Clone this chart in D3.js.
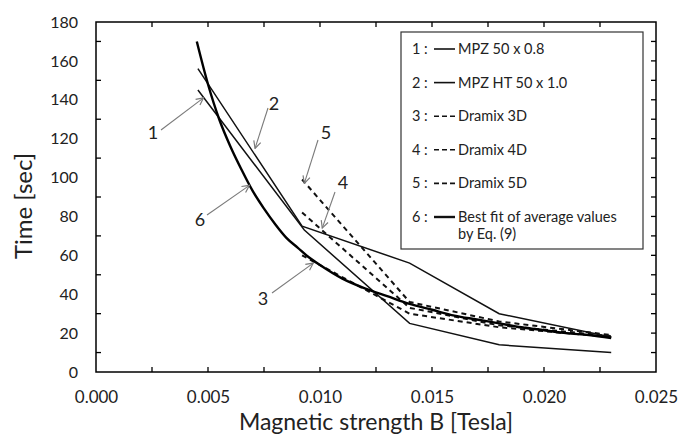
<!DOCTYPE html>
<html>
<head>
    <meta charset="utf-8" />
    <style>
    body { margin: 0; background: #fff; }
    text { font-family: Lato, "Open Sans", sans-serif; fill: #222; }
    .frame { fill: none; stroke: #000; stroke-width: 1.5px; }
    .curve { fill: none; stroke: #111; stroke-width: 1.5px; }
    .fit { fill: none; stroke: #000; stroke-width: 2.4px; }
    .dash { fill: none; stroke: #111; stroke-width: 2px; stroke-dasharray: 5 4; }
    .pointer { stroke: #7a7a7a; stroke-width: 1.1px; }
    </style>
</head>
<body>
<svg id="chart" width="680" height="436"></svg>
<script src="https://d3js.org/d3.v7.min.js"></script>
<script>
    // values: [B (Tesla), time (sec)]
    var mpz50 = [[0.00455, 145], [0.0093, 73], [0.014, 25], [0.018, 14], [0.023, 10]];
    var mpzHT = [[0.00455, 156], [0.0092, 75], [0.014, 56], [0.018, 30], [0.023, 18]];
    var dramix3D = [[0.0092, 60], [0.014, 30], [0.018, 23], [0.023, 18]];
    var dramix4D = [[0.0092, 82], [0.014, 33], [0.018, 24], [0.023, 18.5]];
    var dramix5D = [[0.0092, 99], [0.014, 36], [0.018, 26], [0.023, 19]];
    var bestFit = [[0.0045, 170], [0.005, 148], [0.0055, 130], [0.006, 116], [0.0065, 104],
        [0.007, 93], [0.0075, 84], [0.008, 76], [0.0085, 69], [0.009, 64], [0.0095, 59],
        [0.010, 55], [0.011, 48], [0.012, 43], [0.013, 39], [0.014, 35], [0.015, 32],
        [0.016, 29], [0.017, 27], [0.018, 25], [0.019, 23], [0.020, 21.5], [0.021, 20],
        [0.022, 19], [0.023, 17.5]];

    var xTicks = [0, 0.005, 0.010, 0.015, 0.020, 0.025];
    var yTicks = [0, 20, 40, 60, 80, 100, 120, 140, 160, 180];
    var legendLabels = ["MPZ 50 x 0.8", "MPZ HT 50 x 1.0", "Dramix 3D", "Dramix 4D", "Dramix 5D", "Best fit of average values"];

    var svg = d3.select("#chart");
    var pl = 96, pt = 22, pr = 656, pb = 372;

    var x = d3.scaleLinear().domain([0, 0.025]).range([pl, pr]);
    var y = d3.scaleLinear().domain([0, 180]).range([pb, pt]);

    // tick labels
    svg.append("g")
        .attr("transform", "translate(0," + pb + ")")
        .call(d3.axisBottom(x).tickValues(xTicks).tickFormat(d3.format(".3f")).tickSize(0).tickPadding(19))
        .call(function(g) { g.select(".domain").remove(); })
        .selectAll("text").style("font-size", "17px").attr("fill", "#222");

    svg.append("g")
        .attr("transform", "translate(" + pl + ",0)")
        .call(d3.axisLeft(y).tickValues(yTicks).tickSize(0).tickPadding(18))
        .call(function(g) { g.select(".domain").remove(); })
        .selectAll("text").style("font-size", "16px").attr("fill", "#222");

    // inside ticks
    var minorX = d3.range(1, 10).map(function(i) { return i * 0.0025; });
    var oddY = d3.range(10, 180, 20);
    var allY = d3.range(10, 180, 10);
    var tickG = svg.append("g").attr("stroke", "#000").attr("stroke-width", 1.3);
    tickG.selectAll(".tb").data(minorX).enter().append("line")
        .attr("x1", function(d) { return x(d); }).attr("x2", function(d) { return x(d); })
        .attr("y1", pb).attr("y2", pb - 5);
    tickG.selectAll(".tt").data(minorX).enter().append("line")
        .attr("x1", function(d) { return x(d); }).attr("x2", function(d) { return x(d); })
        .attr("y1", pt).attr("y2", pt + 5);
    tickG.selectAll(".tl").data(oddY).enter().append("line")
        .attr("x1", pl).attr("x2", pl + 5)
        .attr("y1", function(d) { return y(d); }).attr("y2", function(d) { return y(d); });
    tickG.selectAll(".tr").data(allY).enter().append("line")
        .attr("x1", pr).attr("x2", pr - 5)
        .attr("y1", function(d) { return y(d); }).attr("y2", function(d) { return y(d); });

    svg.append("rect").attr("class", "frame")
        .attr("x", pl).attr("y", pt).attr("width", pr - pl).attr("height", pb - pt);

    // axis titles
    svg.append("text").attr("x", 376).attr("y", 430)
        .attr("text-anchor", "middle").style("font-size", "23px").text("Magnetic strength B [Tesla]");
    svg.append("text").attr("transform", "translate(32,206) rotate(-90)")
        .attr("text-anchor", "middle").style("font-size", "24px").text("Time [sec]");

    // curves
    var line = d3.line().x(function(d) { return x(d[0]); }).y(function(d) { return y(d[1]); });
    var smooth = d3.line().curve(d3.curveMonotoneX).x(function(d) { return x(d[0]); }).y(function(d) { return y(d[1]); });

    svg.append("path").attr("class", "curve").attr("d", line(mpz50));
    svg.append("path").attr("class", "curve").attr("d", line(mpzHT));
    svg.append("path").attr("class", "dash").attr("d", line(dramix3D));
    svg.append("path").attr("class", "dash").attr("d", line(dramix4D));
    svg.append("path").attr("class", "dash").attr("d", line(dramix5D));
    svg.append("path").attr("class", "fit").attr("d", smooth(bestFit));

    // numbered pointers
    svg.append("defs").append("marker")
        .attr("id", "head").attr("viewBox", "0 0 10 10").attr("refX", 9).attr("refY", 5)
        .attr("markerWidth", 9).attr("markerHeight", 9).attr("orient", "auto")
        .attr("markerUnits", "userSpaceOnUse")
        .append("path").attr("d", "M1,1 L9,5 L1,9").attr("fill", "none")
        .attr("stroke", "#7a7a7a").attr("stroke-width", 1.3);

    var pointers = [
        {label: "1", tx: 153, ty: 139, x1: 161, y1: 130, at: [0.0048, 141]},
        {label: "2", tx: 274, ty: 110, x1: 268, y1: 108, at: [0.0071, 115]},
        {label: "5", tx: 326, ty: 139, x1: 318, y1: 140, at: [0.0093, 97]},
        {label: "4", tx: 343, ty: 189, x1: 335, y1: 192, at: [0.0101, 74]},
        {label: "6", tx: 200, ty: 226, x1: 207, y1: 215, at: [0.00685, 96]},
        {label: "3", tx: 263, ty: 305, x1: 272, y1: 293, at: [0.0097, 56]}
    ];
    var pg = svg.append("g");
    pointers.forEach(function(p) {
        pg.append("line").attr("class", "pointer")
            .attr("x1", p.x1).attr("y1", p.y1)
            .attr("x2", x(p.at[0])).attr("y2", y(p.at[1]))
            .attr("marker-end", "url(#head)");
        pg.append("text").attr("x", p.tx).attr("y", p.ty).attr("text-anchor", "middle")
            .style("font-size", "18px").text(p.label);
    });

    // legend
    var lg = svg.append("g");
    lg.append("rect").attr("x", 401).attr("y", 32).attr("width", 242).attr("height", 217)
        .attr("fill", "#fff").attr("stroke", "#333").attr("stroke-width", 1.2);
    legendLabels.forEach(function(t, i) {
        var yy = 49 + i * 33.6;
        lg.append("text").attr("x", 412).attr("y", yy + 5).style("font-size", "14.5px").text((i + 1) + " :");
        lg.append("line").attr("x1", 434).attr("x2", 455).attr("y1", yy).attr("y2", yy)
            .attr("stroke", "#111").attr("stroke-width", i == 5 ? 2.4 : 1.6)
            .attr("stroke-dasharray", i >= 2 && i <= 4 ? "5 3" : null);
        lg.append("text").attr("x", 458).attr("y", yy + 5).style("font-size", "14.5px").text(t);
    });
    lg.append("text").attr("x", 458).attr("y", 49 + 5 * 33.6 + 22).style("font-size", "14.5px").text("by Eq. (9)");
</script>
</body>
</html>
